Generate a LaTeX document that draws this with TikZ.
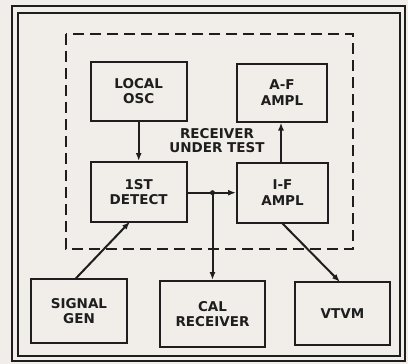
\documentclass[tikz,border=0pt]{standalone}
\usepackage{fontspec}
\setmainfont{DejaVu Sans}
\usetikzlibrary{arrows.meta}
\definecolor{paper}{HTML}{F1EEE9}
\definecolor{ink}{HTML}{1E1E1E}
\tikzset{
  blk/.style={draw=ink, line width=2pt, fill=paper, align=center, inner sep=0pt,
    font=\fontsize{13.5}{15.5}\selectfont\bfseries, text=ink},
  conn/.style={draw=ink, line width=2pt, -{Latex[length=8pt,width=6pt]}},
  wire/.style={draw=ink, line width=2pt},
  frameline/.style={draw=ink, line width=1.5pt},
  dashbox/.style={draw=ink, line width=2pt, dash pattern=on 11pt off 6pt},
  lbl/.style={align=center, inner sep=0pt, font=\fontsize{13.5}{14}\selectfont\bfseries, text=ink}
}
\begin{document}
\begin{tikzpicture}[x=1pt,y=-1pt]
\useasboundingbox[fill=paper] (0,0) rectangle (408,364);
% double frame
\draw[frameline] (12,6) rectangle (405,361);
\draw[frameline] (18,13) rectangle (400,356);
% dashed receiver boundary
\draw[dashbox] (66,34) rectangle (353,249);
% blocks
\node[blk, minimum width=96pt, minimum height=59pt] (osc) at (138.7,91) {LOCAL\\OSC};
\node[blk, minimum width=96pt, minimum height=60pt] (det) at (138.7,192) {1ST\\DETECT};
\node[blk, minimum width=90pt, minimum height=58pt] (af) at (282,92.5) {A-F\\AMPL};
\node[blk, minimum width=91pt, minimum height=60pt] (if) at (282.5,192.7) {I-F\\AMPL};
\node[blk, minimum width=96pt, minimum height=64pt] (sig) at (79,311.3) {SIGNAL\\GEN};
\node[blk, minimum width=105pt, minimum height=66pt] (cal) at (212.5,314) {CAL\\RECEIVER};
\node[blk, minimum width=95pt, minimum height=63pt] (vtvm) at (342.5,313.7) {VTVM};
\node[lbl] (rut) at (217,141) {RECEIVER\\UNDER TEST};
% junction
\coordinate (j) at (212.5,192.7);
% connectors
\draw[conn] (osc.south) -- (det.north);
\draw[conn] (det.east |- j) -- (if.west |- j);
\fill[ink] (j) circle (2.5pt);
\draw[conn] (j) -- (j |- cal.north);
\draw[conn] ([xshift=-1.5pt]if.north) -- ([xshift=-1pt]af.south);
\coordinate (sgs) at (75,279.3);
\coordinate (dtb) at (130,221.7);
\draw[conn] (sgs) -- (dtb);
\coordinate (ifb) at (281.7,222.7);
\coordinate (vtt) at (340,282);
\draw[conn] (ifb) -- (vtt);
\end{tikzpicture}
\end{document}
